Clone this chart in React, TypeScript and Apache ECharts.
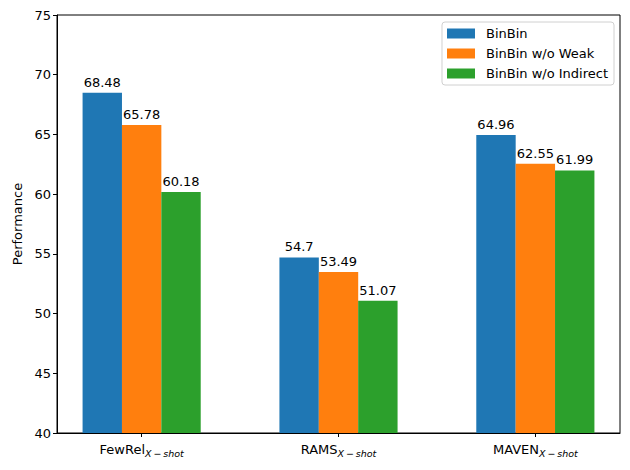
import React, { useEffect, useRef } from "react";
import * as echarts from "echarts";

const categories = ["FewRel", "RAMS", "MAVEN"];
const subscript = "X\u2009\u2212\u2009shot";
const seriesNames = ["BinBin", "BinBin w/o Weak", "BinBin w/o Indirect"];
const binbin = [68.48, 54.7, 64.96];
const noWeak = [65.78, 53.49, 62.55];
const noIndirect = [60.18, 51.07, 61.99];
const colors = ["#1f77b4", "#ff7f0e", "#2ca02c"];
const yTicks = [40, 45, 50, 55, 60, 65, 70, 75];

const FONT = "DejaVu Sans";

export default function App() {
  const ref = useRef<HTMLDivElement>(null);
  useEffect(() => {
    if (!ref.current) return;
    const chart = echarts.init(ref.current, undefined, { renderer: "svg" });
    const all = [binbin, noWeak, noIndirect];
    const barW = 0.2;
    const offsets = [-barW, 0, barW];
    const series = all.map((vals, s) => ({
      name: seriesNames[s],
      type: "bar",
      barWidth: 39.4,
      barGap: "-100%",
      itemStyle: { color: colors[s] },
      label: {
        show: true,
        position: "top",
        distance: 4,
        color: "#000",
        fontFamily: FONT,
        fontSize: 13,
        formatter: (p: any) => String(p.value[1]),
      },
      data: vals.map((v, i) => [i + offsets[s], v]),
    }));
    chart.setOption({
      animation: false,
      textStyle: { fontFamily: FONT },
      grid: {
        left: 57,
        right: 10,
        top: 15,
        bottom: 37,
        show: true,
        borderColor: "#000",
        borderWidth: 1,
        backgroundColor: "transparent",
      },
      legend: {
        orient: "vertical",
        right: 16,
        top: 22,
        data: seriesNames,
        itemWidth: 28,
        itemHeight: 10,
        itemGap: 7,
        padding: [5, 6, 5, 5],
        borderColor: "#d0d0d0",
        borderWidth: 1,
        borderRadius: 3,
        backgroundColor: "rgba(255,255,255,0.8)",
        icon: "rect",
        textStyle: {
          fontFamily: FONT,
          fontSize: 13,
          color: "#000",
          padding: [0, 0, 0, 6],
        },
      },
      xAxis: {
        type: "value",
        min: -0.43,
        max: 2.43,
        splitLine: { show: false },
        axisLine: { show: true, onZero: false, lineStyle: { color: "#000", width: 1 } },
        axisTick: {
          show: true,
          length: 4,
          customValues: [0, 1, 2],
          lineStyle: { color: "#000" },
        },
        axisLabel: {
          customValues: [0, 1, 2],
          margin: 7,
          formatter: (v: number) => `{a|${categories[Math.round(v)]}}{b|${subscript}}`,
          rich: {
            a: { fontFamily: FONT, fontSize: 13, color: "#000" },
            b: {
              fontFamily: FONT,
              fontSize: 9.5,
              fontStyle: "italic",
              color: "#000",
              padding: [8, 0, 0, 0],
            },
          },
        },
      },
      yAxis: {
        type: "value",
        min: 40,
        max: 75,
        interval: 5,
        name: "Performance",
        nameLocation: "middle",
        nameGap: 33,
        nameTextStyle: { fontFamily: FONT, fontSize: 13, color: "#000" },
        splitLine: { show: false },
        axisLine: { show: true, onZero: false, lineStyle: { color: "#000", width: 1 } },
        axisTick: { show: true, length: 4, lineStyle: { color: "#000" } },
        axisLabel: {
          fontFamily: FONT,
          fontSize: 13,
          color: "#000",
          margin: 6,
        },
      },
      series,
    });
    return () => chart.dispose();
  }, []);
  return <div ref={ref} style={{ width: 630, height: 470, margin: -8 }} />;
}
